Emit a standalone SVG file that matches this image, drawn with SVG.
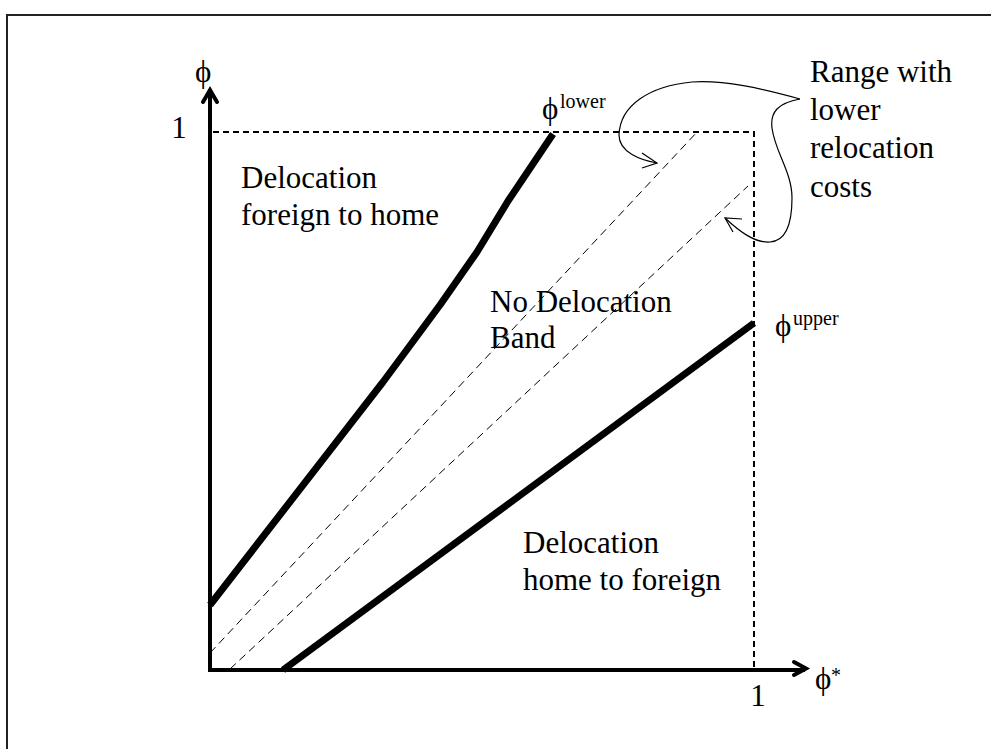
<svg xmlns="http://www.w3.org/2000/svg" width="991" height="749" viewBox="0 0 991 749">
  <style>
    text { font-family: "Liberation Serif", "DejaVu Serif", serif; fill: #000; }
    .lbl { font-size: 31px; }
    .sup { font-size: 20px; }
    .axis { stroke: #000; stroke-width: 4; fill: none; }
    .head { stroke: #000; stroke-width: 4; fill: none; stroke-linecap: round; stroke-linejoin: miter; }
    .bound { stroke: #000; stroke-width: 7; fill: none; stroke-linejoin: round; }
    .box { stroke: #000; stroke-width: 2; fill: none; stroke-dasharray: 6 4; }
    .thin { stroke: #000; stroke-width: 1; fill: none; stroke-dasharray: 8 5; }
    .curve { stroke: #000; stroke-width: 1.2; fill: none; }
  </style>

  <!-- frame -->
  <path d="M7,749 V15 H991" stroke="#222" stroke-width="2" fill="none"/>

  <g id="connectors">
    <!-- axes -->
    <g id="axes">
      <path class="axis" d="M210,670 V91"/>
      <path class="head" d="M203,102 L210,90 L217,102"/>
      <path class="axis" d="M208,670 H805"/>
      <path class="head" d="M794,662 L806,668.5 L794,675"/>
    </g>

    <!-- unit square -->
    <path class="box" d="M213,132 H754 V668"/>

    <!-- lower boundary -->
    <polyline class="bound" points="210,605 383,382 440,305 477,252 508,201 553,134"/>
    <!-- upper boundary -->
    <line class="bound" x1="283" y1="670" x2="754" y2="323"/>

    <!-- lower-cost boundaries -->
    <line class="thin" x1="210" y1="653" x2="698" y2="131"/>
    <line class="thin" x1="230" y1="669" x2="748" y2="186"/>

    <!-- callout arrows -->
    <path class="curve" d="M800,99 C760,88 725,80 692,82 C650,86 620,105 619,135 C619,152 640,160 657,163"/>
    <path class="curve" d="M642,153 L657,163 L642,168"/>
    <path class="curve" d="M800,99 C778,103 770,112 772,128 C775,152 792,172 792,198 C792,225 786,241 770,242 C755,243 740,232 725,218"/>
    <path class="curve" d="M742,219 L725,218 L733,232"/>
  </g>

  <g id="axis-labels">
    <text class="lbl" x="195" y="82">ϕ</text>
    <text class="lbl" x="179" y="138" text-anchor="middle">1</text>
    <text class="lbl" x="758" y="706" text-anchor="middle">1</text>
    <text class="lbl" x="815" y="689">ϕ</text>
    <text class="sup" x="831" y="682">*</text>
  </g>

  <g id="phi-lower">
    <text class="lbl" x="542" y="119">ϕ</text>
    <text class="sup" x="560" y="108">lower</text>
  </g>

  <g id="phi-upper">
    <text class="lbl" x="775" y="336">ϕ</text>
    <text class="sup" x="793" y="325">upper</text>
  </g>

  <g id="region-foreign-home">
    <text class="lbl" x="241" y="188">Delocation</text>
    <text class="lbl" x="241" y="225">foreign to home</text>
  </g>

  <g id="region-band">
    <text class="lbl" x="490" y="312">No Delocation</text>
    <text class="lbl" x="490" y="348">Band</text>
  </g>

  <g id="region-home-foreign">
    <text class="lbl" x="523" y="553">Delocation</text>
    <text class="lbl" x="523" y="590">home to foreign</text>
  </g>

  <g id="range-note">
    <text class="lbl" x="810" y="82">Range with</text>
    <text class="lbl" x="810" y="120">lower</text>
    <text class="lbl" x="810" y="158">relocation</text>
    <text class="lbl" x="810" y="197">costs</text>
  </g>
</svg>
